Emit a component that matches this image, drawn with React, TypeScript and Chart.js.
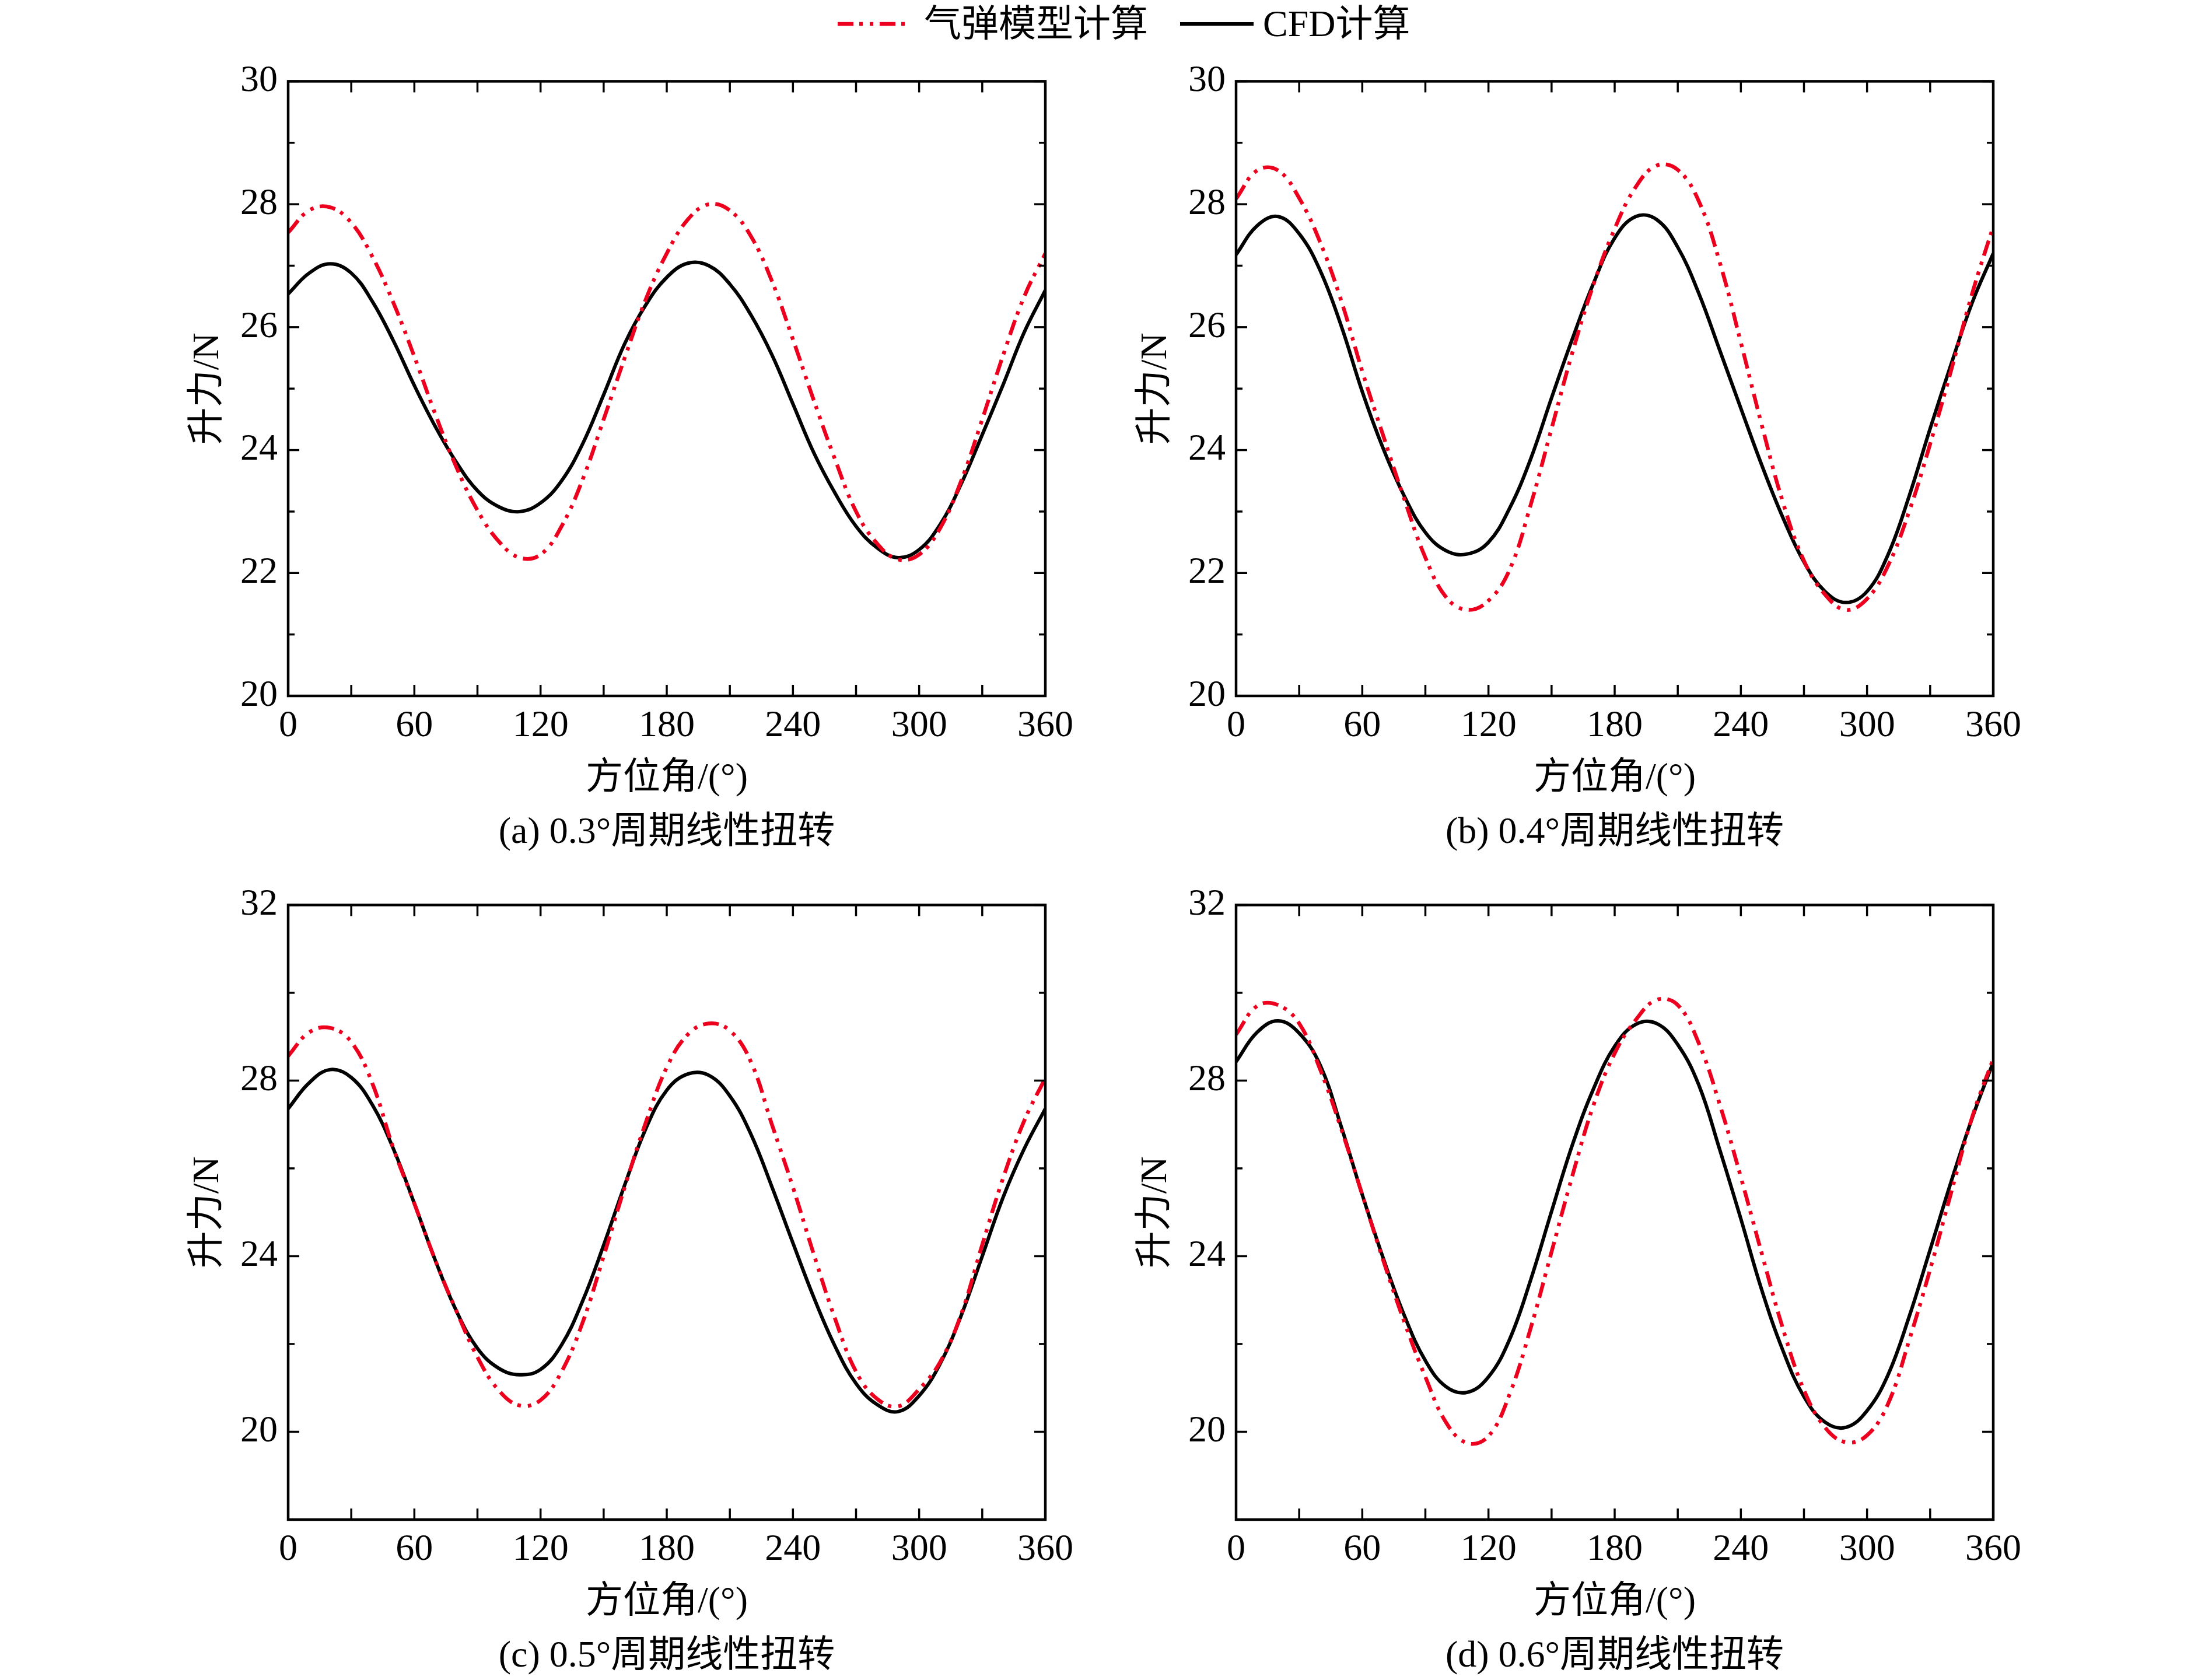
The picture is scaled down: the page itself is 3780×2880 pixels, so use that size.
import React, { useEffect, useRef } from 'react';
import { Chart, registerables } from 'chart.js';

Chart.register(...registerables);

// ---------------- data ----------------
const ANGLES = [0, 10, 20, 30, 40, 50, 60, 70, 80, 90, 100, 110, 120, 130, 140, 150, 160, 170, 180,
  190, 200, 210, 220, 230, 240, 250, 260, 270, 280, 290, 300, 310, 320, 330, 340, 350, 360];

const A_MODEL = [27.54, 27.9, 27.95, 27.7, 27.15, 26.4, 25.52, 24.58, 23.72, 23.02, 22.52, 22.25, 22.3,
  22.76, 23.52, 24.5, 25.5, 26.45, 27.2, 27.75, 28.0, 27.9, 27.48, 26.75, 25.8, 24.8, 23.85, 23.0, 22.48,
  22.22, 22.3, 22.73, 23.5, 24.5, 25.55, 26.5, 27.2];
const A_CFD = [26.54, 26.88, 27.03, 26.88, 26.42, 25.78, 25.05, 24.38, 23.8, 23.34, 23.08, 23.0, 23.14,
  23.5, 24.1, 24.9, 25.73, 26.36, 26.81, 27.04, 27.0, 26.7, 26.2, 25.55, 24.75, 23.95, 23.3, 22.76, 22.41,
  22.25, 22.38, 22.79, 23.45, 24.25, 25.07, 25.92, 26.6];

const B_MODEL = [28.09, 28.55, 28.55, 28.1, 27.38, 26.43, 25.28, 24.23, 23.2, 22.25, 21.6, 21.4, 21.55,
  22.05, 23.1, 24.35, 25.6, 26.7, 27.6, 28.28, 28.63, 28.56, 28.05, 27.05, 25.75, 24.4, 23.15, 22.2,
  21.65, 21.4, 21.58, 22.12, 23.0, 24.1, 25.3, 26.55, 27.64];
const B_CFD = [27.18, 27.65, 27.8, 27.52, 26.92, 26.02, 24.95, 24.02, 23.25, 22.66, 22.36, 22.31, 22.5,
  23.05, 23.85, 24.85, 25.82, 26.72, 27.45, 27.8, 27.75, 27.3, 26.55, 25.62, 24.68, 23.75, 22.9, 22.18,
  21.7, 21.52, 21.7, 22.3, 23.25, 24.35, 25.4, 26.4, 27.2];

const C_MODEL = [28.56, 29.1, 29.2, 28.88, 27.94, 26.46, 25.2, 23.9, 22.75, 21.7, 20.95, 20.6, 20.72,
  21.37, 22.49, 24.0, 25.57, 27.04, 28.3, 29.05, 29.3, 29.14, 28.43, 27.0, 25.57, 24.03, 22.58, 21.37,
  20.75, 20.58, 20.97, 21.59, 22.68, 24.26, 25.79, 27.09, 28.06];
const C_CFD = [27.36, 27.95, 28.25, 28.07, 27.45, 26.45, 25.2, 23.9, 22.75, 21.9, 21.45, 21.3, 21.42,
  21.98, 22.98, 24.25, 25.62, 26.9, 27.78, 28.15, 28.12, 27.65, 26.78, 25.58, 24.3, 23.05, 21.95, 21.1,
  20.62, 20.46, 20.82, 21.55, 22.65, 24.0, 25.35, 26.45, 27.36];

const D_MODEL = [29.05, 29.7, 29.72, 29.3, 28.25, 26.9, 25.4, 23.9, 22.5, 21.25, 20.2, 19.74, 19.9,
  20.85, 22.35, 24.1, 25.85, 27.45, 28.62, 29.38, 29.84, 29.72, 28.85, 27.45, 25.8, 24.05, 22.35, 20.95,
  20.1, 19.76, 19.92, 20.64, 22.08, 23.7, 25.45, 27.17, 28.5];
const D_CFD = [28.43, 29.1, 29.36, 29.08, 28.35, 26.95, 25.4, 23.95, 22.65, 21.62, 21.02, 20.9, 21.25,
  22.1, 23.45, 25.02, 26.55, 27.82, 28.78, 29.28, 29.3, 28.82, 27.9, 26.42, 24.85, 23.22, 21.85, 20.8,
  20.22, 20.1, 20.48, 21.3, 22.62, 24.15, 25.7, 27.15, 28.42];

const X_TICK_LABELS = [0, 60, 120, 180, 240, 300, 360];
const X_TICK_MARKS = [0, 30, 60, 90, 120, 150, 180, 210, 240, 270, 300, 330, 360];
const Y_TICKS_AB = [20, 22, 24, 26, 28, 30];
const Y_MINOR_AB = [21, 23, 25, 27, 29];
const Y_TICKS_CD = [20, 24, 28, 32];
const Y_MINOR_CD = [22, 26, 30];

const SERIES_NAMES = ['气弹模型计算', 'CFD计算'];
const X_TITLE = '方位角/(°)';
const Y_TITLE = '升力/N';
const CAPTIONS = ['(a) 0.3°周期线性扭转', '(b) 0.4°周期线性扭转', '(c) 0.5°周期线性扭转', '(d) 0.6°周期线性扭转'];

// ---------------- styles / layout ----------------
const FAMILY = "'Liberation Serif', 'Times New Roman', 'Noto Sans CJK SC', serif";
const FS = 64;
const RED = 'rgb(236, 0, 30)';
const RED_DASH = [27, 10, 6, 12, 6, 11];

const CANVAS_W = 1562;
const CANVAS_H = 1381;
const Y_AXIS_W = 194;
const X_AXIS_H = 174;

const PANELS = [
  { model: A_MODEL, cfd: A_CFD, yMin: 20, yMax: 30, yTicks: Y_TICKS_AB, yMinor: Y_MINOR_AB, caption: CAPTIONS[0] },
  { model: B_MODEL, cfd: B_CFD, yMin: 20, yMax: 30, yTicks: Y_TICKS_AB, yMinor: Y_MINOR_AB, caption: CAPTIONS[1] },
  { model: C_MODEL, cfd: C_CFD, yMin: 18, yMax: 32, yTicks: Y_TICKS_CD, yMinor: Y_MINOR_CD, caption: CAPTIONS[2] },
  { model: D_MODEL, cfd: D_CFD, yMin: 18, yMax: 32, yTicks: Y_TICKS_CD, yMinor: Y_MINOR_CD, caption: CAPTIONS[3] },
];
const POSITIONS = [
  { left: 300, top: 83 },
  { left: 1925, top: 83 },
  { left: 300, top: 1495 },
  { left: 1925, top: 1495 },
];

type PanelCfg = typeof PANELS[number];

function makeFramePlugin(cfg: PanelCfg) {
  return {
    id: 'frameTicks',
    afterDraw(chart: any) {
      const { ctx, chartArea } = chart;
      const { left, right, top, bottom } = chartArea;
      const xs = chart.scales.x;
      const ys = chart.scales.y;
      const MAJOR = 19;
      const MINOR = 11;
      ctx.save();
      ctx.strokeStyle = '#000';
      ctx.lineCap = 'butt';
      ctx.lineWidth = 3.5;
      const seg = (x1: number, y1: number, x2: number, y2: number) => {
        ctx.beginPath();
        ctx.moveTo(x1, y1);
        ctx.lineTo(x2, y2);
        ctx.stroke();
      };
      for (const v of X_TICK_MARKS) {
        const px = xs.getPixelForValue(v);
        seg(px, bottom, px, bottom - MAJOR);
        seg(px, top, px, top + MAJOR);
      }
      for (const v of cfg.yTicks) {
        const py = ys.getPixelForValue(v);
        seg(left, py, left + MAJOR, py);
        seg(right, py, right - MAJOR, py);
      }
      for (const v of cfg.yMinor) {
        const py = ys.getPixelForValue(v);
        seg(left, py, left + MINOR, py);
        seg(right, py, right - MINOR, py);
      }
      ctx.lineWidth = 4.5;
      ctx.strokeRect(left, top, right - left, bottom - top);
      ctx.restore();
    },
  };
}

function Panel({ cfg, pos }: { cfg: PanelCfg; pos: { left: number; top: number } }) {
  const ref = useRef<HTMLCanvasElement>(null);
  useEffect(() => {
    const font = { family: FAMILY, size: FS, weight: 'normal' as const };
    const chart = new Chart(ref.current as HTMLCanvasElement, {
      type: 'line',
      data: {
        datasets: [
          {
            label: SERIES_NAMES[0],
            data: ANGLES.map((a, i) => ({ x: a, y: cfg.model[i] })),
            borderColor: RED,
            borderWidth: 6.5,
            borderDash: RED_DASH,
            borderCapStyle: 'butt',
            pointRadius: 0,
            tension: 0.4,
            fill: false,
            order: 0,
          },
          {
            label: SERIES_NAMES[1],
            data: ANGLES.map((a, i) => ({ x: a, y: cfg.cfd[i] })),
            borderColor: '#000',
            borderWidth: 6,
            pointRadius: 0,
            tension: 0.4,
            fill: false,
            order: 1,
          },
        ],
      },
      options: {
        animation: false,
        responsive: false,
        devicePixelRatio: 1,
        events: [],
        layout: { padding: { top: 50, right: 70, left: 0, bottom: 0 } },
        plugins: {
          legend: { display: false },
          tooltip: { enabled: false },
          title: {
            display: true,
            position: 'bottom',
            fullSize: false,
            text: cfg.caption,
            color: '#000',
            font: { family: FAMILY, size: FS, weight: 'normal', lineHeight: 1 },
            padding: { top: 29, bottom: 4 },
          },
        },
        scales: {
          x: {
            type: 'linear',
            min: 0,
            max: 360,
            afterBuildTicks: (s: any) => {
              s.ticks = X_TICK_LABELS.map((v) => ({ value: v }));
            },
            afterFit: (s: any) => {
              s.height = X_AXIS_H;
            },
            grid: { display: false, drawTicks: false },
            border: { display: false },
            ticks: { font, color: '#000', padding: 14, maxRotation: 0, autoSkip: false },
            title: {
              display: true,
              text: X_TITLE,
              color: '#000',
              font: { family: FAMILY, size: FS, weight: 'normal', lineHeight: 1 },
              padding: 0,
            },
          },
          y: {
            type: 'linear',
            min: cfg.yMin,
            max: cfg.yMax,
            afterBuildTicks: (s: any) => {
              s.ticks = cfg.yTicks.map((v) => ({ value: v }));
            },
            afterFit: (s: any) => {
              s.width = Y_AXIS_W;
            },
            grid: { display: false, drawTicks: false },
            border: { display: false },
            ticks: { font, color: '#000', padding: 18, autoSkip: false },
            title: {
              display: true,
              text: Y_TITLE,
              color: '#000',
              font: { family: FAMILY, size: FS, weight: 'normal', lineHeight: 1 },
              padding: { top: 25, bottom: 0 },
            },
          },
        },
      } as any,
      plugins: [makeFramePlugin(cfg)],
    });
    return () => chart.destroy();
  }, [cfg]);
  return (
    <canvas
      ref={ref}
      width={CANVAS_W}
      height={CANVAS_H}
      style={{ position: 'absolute', left: pos.left, top: pos.top, width: CANVAS_W, height: CANVAS_H }}
    />
  );
}

function Legend() {
  const textStyle: React.CSSProperties = {
    position: 'absolute',
    top: 9,
    fontFamily: FAMILY,
    fontSize: FS,
    lineHeight: `${FS}px`,
    color: '#000',
    whiteSpace: 'nowrap',
  };
  return (
    <>
      <svg style={{ position: 'absolute', left: 1436, top: 31 }} width={122} height={20}>
        <line x1={0} y1={10} x2={122} y2={10} stroke={RED} strokeWidth={6.5} strokeDasharray={RED_DASH.join(' ')} />
      </svg>
      <div style={{ ...textStyle, left: 1584 }}>{SERIES_NAMES[0]}</div>
      <svg style={{ position: 'absolute', left: 2023, top: 31 }} width={126} height={20}>
        <line x1={0} y1={10} x2={126} y2={10} stroke="#000" strokeWidth={6} />
      </svg>
      <div style={{ ...textStyle, left: 2165 }}>{SERIES_NAMES[1]}</div>
    </>
  );
}

export default function App() {
  return (
    <div
      style={{
        position: 'absolute',
        left: 0,
        top: 0,
        width: 3780,
        height: 2880,
        background: '#ffffff',
        overflow: 'hidden',
      }}
    >
      <Legend />
      {PANELS.map((cfg, i) => (
        <Panel key={i} cfg={cfg} pos={POSITIONS[i]} />
      ))}
    </div>
  );
}
